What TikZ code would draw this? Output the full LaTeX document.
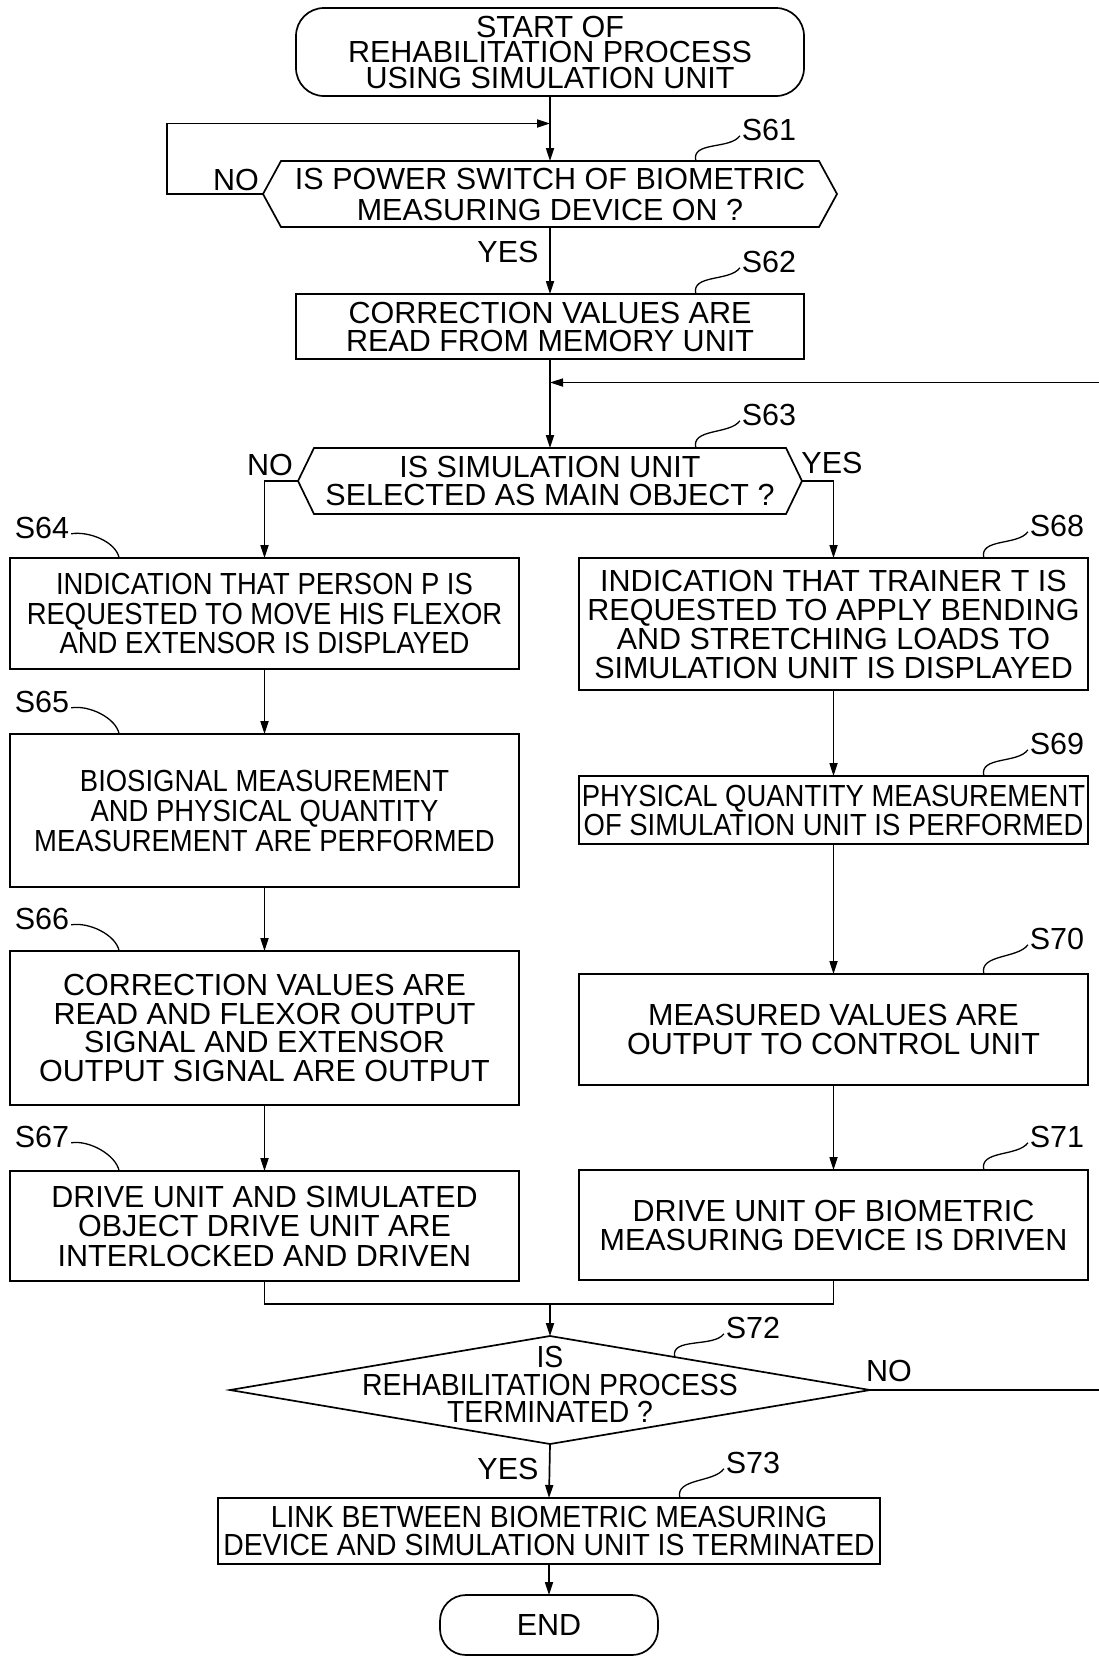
\documentclass[tikz,border=0pt]{standalone}
\usepackage{fontspec}
\setmainfont{Liberation Sans}
\newfontfamily\nrw{Liberation Sans}[FakeStretch=0.9]
\newfontfamily\mrw{Liberation Sans}[FakeStretch=0.93]
\usetikzlibrary{arrows.meta,calc,shapes.geometric}
\newcommand\sqR[2]{\draw[sq] ($(#2.west |- #1.north)+(-46,0)$) .. controls +(-5,-20) and +(-10,14) .. ($(#2.south west)+(-2,-5)$);}
\newcommand\sqL[2]{\draw[sq] ($(#2.south east)+(2,-5)$) .. controls +(18,-3) and +(-3,-16) .. ($(#2.east |- #1.north)+(50,0)$);}
\begin{document}
\begin{tikzpicture}[x=1pt,y=-1pt,
  every node/.style={inner sep=0pt, outer sep=0pt, align=center},
  ln/.style={line width=1.7pt},
  arr/.style={line width=1.7pt,-{Triangle[length=13pt,width=8pt]}},
  box/.style={draw,line width=1.7pt},
  term/.style={box,rounded corners=28pt},
  txt/.style={font=\fontsize{30.5}{#1}\selectfont},
  ntxt/.style={font=\nrw\fontsize{30.5}{#1}\selectfont},
  mtxt/.style={font=\mrw\fontsize{30.5}{#1}\selectfont},
  lab/.style={font=\fontsize{30.5}{30}\selectfont},
  sq/.style={line width=1.3pt}]
\useasboundingbox (0,0) rectangle (1099,1660);

% start
\node[term,txt=25.5,minimum width=508,minimum height=88] (start) at (550,52)
  {START OF\\REHABILITATION PROCESS\\USING SIMULATION UNIT};

% S61 hexagon
\node[txt=31,minimum width=538,minimum height=66] (s61) at (550,194)
  {IS POWER SWITCH OF BIOMETRIC\\MEASURING DEVICE ON ?};
\coordinate (s61w) at ($(s61.west)+(-18,0)$);
\coordinate (s61e) at ($(s61.east)+(18,0)$);
\draw[ln] (s61.north west) -- (s61.north east) -- (s61e) -- (s61.south east)
  -- (s61.south west) -- (s61w) -- cycle;

% S62
\node[box,txt=28,minimum width=508,minimum height=65] (s62) at (550,326.5)
  {CORRECTION VALUES ARE\\READ FROM MEMORY UNIT};

% S63 hexagon
\node[txt=28,minimum width=472,minimum height=66] (s63) at (550,481)
  {IS SIMULATION UNIT\\SELECTED AS MAIN OBJECT ?};
\coordinate (s63w) at ($(s63.west)+(-16,0)$);
\coordinate (s63e) at ($(s63.east)+(16,0)$);
\draw[ln] (s63.north west) -- (s63.north east) -- (s63e) -- (s63.south east)
  -- (s63.south west) -- (s63w) -- cycle;

% left column
\node[box,ntxt=29.5,minimum width=509,minimum height=111] (s64) at (264.5,613.5)
  {INDICATION THAT PERSON P IS\\REQUESTED TO MOVE HIS FLEXOR\\AND EXTENSOR IS DISPLAYED};
\node[box,ntxt=30,minimum width=509,minimum height=153] (s65) at (264.5,810.5)
  {BIOSIGNAL MEASUREMENT\\AND PHYSICAL QUANTITY\\MEASUREMENT ARE PERFORMED};
\node[box,txt=28.5,minimum width=509,minimum height=154] (s66) at (264.5,1028)
  {CORRECTION VALUES ARE\\READ AND FLEXOR OUTPUT\\SIGNAL AND EXTENSOR\\OUTPUT SIGNAL ARE OUTPUT};
\node[box,txt=29.5,minimum width=509,minimum height=110] (s67) at (264.5,1226)
  {DRIVE UNIT AND SIMULATED\\OBJECT DRIVE UNIT ARE\\INTERLOCKED AND DRIVEN};

% right column
\node[box,txt=29,minimum width=509,minimum height=132] (s68) at (833.5,624)
  {INDICATION THAT TRAINER T IS\\REQUESTED TO APPLY BENDING\\AND STRETCHING LOADS TO\\SIMULATION UNIT IS DISPLAYED};
\node[box,ntxt=29,minimum width=509,minimum height=68] (s69) at (833.5,810)
  {PHYSICAL QUANTITY MEASUREMENT\\OF SIMULATION UNIT IS PERFORMED};
\node[box,txt=28.5,minimum width=509,minimum height=111] (s70) at (833.5,1029.5)
  {MEASURED VALUES ARE\\OUTPUT TO CONTROL UNIT};
\node[box,txt=29,minimum width=509,minimum height=110] (s71) at (833.5,1225)
  {DRIVE UNIT OF BIOMETRIC\\MEASURING DEVICE IS DRIVEN};

% S72 diamond
\node[draw,line width=1.7pt,shape=diamond,minimum width=640,minimum height=108] (s72) at (550,1390) {};
\node[mtxt=27.5] (s72t) at (550,1384.5) {IS\\REHABILITATION PROCESS\\TERMINATED ?};

% S73
\node[box,mtxt=27.5,minimum width=662,minimum height=66] (s73) at (549,1531)
  {LINK BETWEEN BIOMETRIC MEASURING\\DEVICE AND SIMULATION UNIT IS TERMINATED};

% end
\node[box,rounded corners=26pt,txt=30,minimum width=218,minimum height=60] (fin) at (549,1625) {END};

% step labels
\node[lab] (l61) at (769,130) {S61};
\node[lab] (l62) at (769,262) {S62};
\node[lab] (l63) at (769,415) {S63};
\node[lab] (l64) at (42,528) {S64};
\node[lab] (l65) at (42,702) {S65};
\node[lab] (l66) at (42,919) {S66};
\node[lab] (l67) at (42,1137) {S67};
\node[lab] (l68) at (1057,526) {S68};
\node[lab] (l69) at (1057,744) {S69};
\node[lab] (l70) at (1057,939) {S70};
\node[lab] (l71) at (1057,1137) {S71};
\node[lab] (l72) at (753,1328) {S72};
\node[lab] (l73) at (753,1463) {S73};

\sqR{s61}{l61}
\sqR{s62}{l62}
\sqR{s63}{l63}
\sqL{s64}{l64}
\sqL{s65}{l65}
\sqL{s66}{l66}
\sqL{s67}{l67}
\sqR{s68}{l68}
\sqR{s69}{l69}
\sqR{s70}{l70}
\sqR{s71}{l71}
\sqR{s73}{l73}
\draw[sq] ($(s72.north)!0.39!(s72.east)$) .. controls +(-5,-20) and +(-10,14) .. ($(l72.south west)+(-2,-5)$);

% yes / no labels
\node[lab] (no61) at (236,180) {NO};
\node[lab] (yes61) at (508,252) {YES};
\node[lab] (no63) at (270,465) {NO};
\node[lab] (yes63) at (832,463) {YES};
\node[lab] (no72) at (889,1371) {NO};
\node[lab] (yes72) at (508,1469) {YES};

% connectors
\coordinate (j1) at (550,123.5);
\coordinate (j2) at (550,382.5);
\coordinate (jm) at (550,1304);
\coordinate (s72e) at (s72.east);

\draw[arr] (start.south) -- (s61.north);
\draw[arr] (s61w) -- ++(-96,0) |- (j1);
\draw[arr] (s61.south) -- (s62.north);
\draw[arr] (s62.south) -- (s63.north);
\draw[arr] (s63w) -| (s64.north);
\draw[arr] (s63e) -| (s68.north);
\draw[arr] (s64.south) -- (s65.north);
\draw[arr] (s65.south) -- (s66.north);
\draw[arr] (s66.south) -- (s67.north);
\draw[arr] (s68.south) -- (s69.north);
\draw[arr] (s69.south) -- (s70.north);
\draw[arr] (s70.south) -- (s71.north);
\draw[ln] (s67.south) |- (jm);
\draw[ln] (s71.south) |- (jm);
\draw[arr] (jm) -- (s72.north);
\draw[arr] (s72e) -- ++(233,0) |- (j2);
\draw[arr] (s72.south) -- (s73.north);
\draw[arr] (s73.south) -- (fin.north);
\end{tikzpicture}
\end{document}
